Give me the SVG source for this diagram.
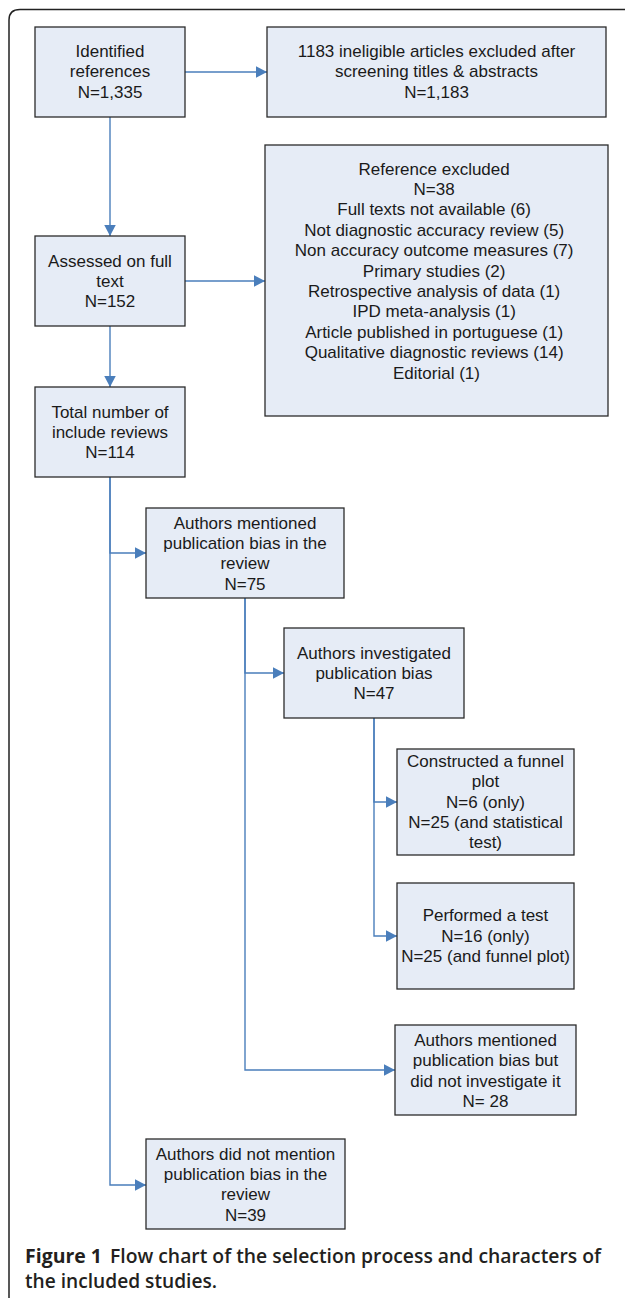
<svg xmlns="http://www.w3.org/2000/svg" width="625" height="1298" viewBox="0 0 625 1298">
<style>
.box{fill:#e6ecf6;stroke:#2b2b2b;stroke-width:1.3}
.t{font-family:"Liberation Sans",Arial,sans-serif;font-size:17px;fill:#1a1a1a;text-anchor:middle}
.c{fill:none;stroke:#4a7ebb;stroke-width:1.4;marker-end:url(#ah)}
.cap{font-family:"Open Sans","Liberation Sans",sans-serif;font-size:20px;fill:#231f20}
</style>
<defs>
<marker id="ah" markerUnits="userSpaceOnUse" markerWidth="12" markerHeight="12" refX="11" refY="5.75" orient="auto">
<path d="M0,0 L11,5.75 L0,11.5 z" fill="#4a7ebb"/>
</marker>
</defs>
<rect width="625" height="1298" fill="#ffffff"/>
<path d="M9,1298 V20 Q9,9.5 20,9.5 H630" fill="none" stroke="#222" stroke-width="1.5"/>

<g id="connectors">
<path class="c" d="M185,72 H267"/>
<path class="c" d="M110,117 V236"/>
<path class="c" d="M185,281 H265"/>
<path class="c" d="M110,326 V387"/>
<path class="c" d="M110,477 V553 H146"/>
<path class="c" d="M110,477 V1185 H146"/>
<path class="c" d="M245,598 V673 H284"/>
<path class="c" d="M245,598 V1070 H395"/>
<path class="c" d="M374,718 V802 H397"/>
<path class="c" d="M374,718 V936 H397"/>
</g>

<g id="n1">
<rect class="box" x="35" y="27" width="150" height="90"/>
<text class="t"><tspan x="110" y="56.5">Identified</tspan><tspan x="110" y="77">references</tspan><tspan x="110" y="97.5">N=1,335</tspan></text>
</g>
<g id="n2">
<rect class="box" x="267" y="27" width="339" height="90"/>
<text class="t"><tspan x="436.5" y="56.5">1183 ineligible articles excluded after</tspan><tspan x="436.5" y="77">screening titles &amp; abstracts</tspan><tspan x="436.5" y="97.5">N=1,183</tspan></text>
</g>
<g id="n3">
<rect class="box" x="35" y="236" width="150" height="90"/>
<text class="t"><tspan x="110" y="266.5">Assessed on full</tspan><tspan x="110" y="287">text</tspan><tspan x="110" y="307">N=152</tspan></text>
</g>
<g id="n4">
<rect class="box" x="265" y="145" width="343" height="271"/>
<text class="t">
<tspan x="436.5" y="174.5">Reference excluded</tspan>
<tspan x="436.5" y="194.9">N=38</tspan>
<tspan x="436.5" y="215.3">Full texts not available (6)</tspan>
<tspan x="436.5" y="235.7">Not diagnostic accuracy review (5)</tspan>
<tspan x="436.5" y="256.1">Non accuracy outcome measures (7)</tspan>
<tspan x="436.5" y="276.5">Primary studies (2)</tspan>
<tspan x="436.5" y="296.9">Retrospective analysis of data (1)</tspan>
<tspan x="436.5" y="317.3">IPD meta-analysis (1)</tspan>
<tspan x="436.5" y="337.7">Article published in portuguese (1)</tspan>
<tspan x="436.5" y="358.1">Qualitative diagnostic reviews (14)</tspan>
<tspan x="436.5" y="378.5">Editorial (1)</tspan>
</text>
</g>
<g id="n5">
<rect class="box" x="35" y="387" width="150" height="90"/>
<text class="t"><tspan x="110" y="417.5">Total number of</tspan><tspan x="110" y="438">include reviews</tspan><tspan x="110" y="458">N=114</tspan></text>
</g>
<g id="n6">
<rect class="box" x="146" y="508" width="198" height="90"/>
<text class="t"><tspan x="245" y="528.5">Authors mentioned</tspan><tspan x="245" y="548.9">publication bias in the</tspan><tspan x="245" y="569.3">review</tspan><tspan x="245" y="589.7">N=75</tspan></text>
</g>
<g id="n7">
<rect class="box" x="284" y="628" width="180" height="90"/>
<text class="t"><tspan x="374" y="658.5">Authors investigated</tspan><tspan x="374" y="679">publication bias</tspan><tspan x="374" y="699">N=47</tspan></text>
</g>
<g id="n8">
<rect class="box" x="397" y="749" width="177" height="106"/>
<text class="t"><tspan x="485.5" y="766.8">Constructed a funnel</tspan><tspan x="485.5" y="787.2">plot</tspan><tspan x="485.5" y="807.6">N=6 (only)</tspan><tspan x="485.5" y="828">N=25 (and statistical</tspan><tspan x="485.5" y="848.4">test)</tspan></text>
</g>
<g id="n9">
<rect class="box" x="397" y="883" width="177" height="106"/>
<text class="t"><tspan x="485.5" y="921">Performed a test</tspan><tspan x="485.5" y="941.5">N=16 (only)</tspan><tspan x="485.5" y="962">N=25 (and funnel plot)</tspan></text>
</g>
<g id="n10">
<rect class="box" x="395" y="1025" width="181" height="90"/>
<text class="t"><tspan x="485.5" y="1046">Authors mentioned</tspan><tspan x="485.5" y="1066.4">publication bias but</tspan><tspan x="485.5" y="1086.8">did not investigate it</tspan><tspan x="485.5" y="1107.2">N= 28</tspan></text>
</g>
<g id="n11">
<rect class="box" x="146" y="1139" width="199" height="90"/>
<text class="t"><tspan x="245.5" y="1159.5">Authors did not mention</tspan><tspan x="245.5" y="1180">publication bias in the</tspan><tspan x="245.5" y="1200.3">review</tspan><tspan x="245.5" y="1220.7">N=39</tspan></text>
</g>

<g id="caption">
<text class="cap" x="25" y="1263" font-weight="bold" textLength="77" lengthAdjust="spacingAndGlyphs">Figure 1</text>
<text class="cap" x="110" y="1263" font-weight="600" textLength="491" lengthAdjust="spacingAndGlyphs">Flow chart of the selection process and characters of</text>
<text class="cap" x="25" y="1288" font-weight="600" textLength="192" lengthAdjust="spacingAndGlyphs">the included studies.</text>
</g>
</svg>
